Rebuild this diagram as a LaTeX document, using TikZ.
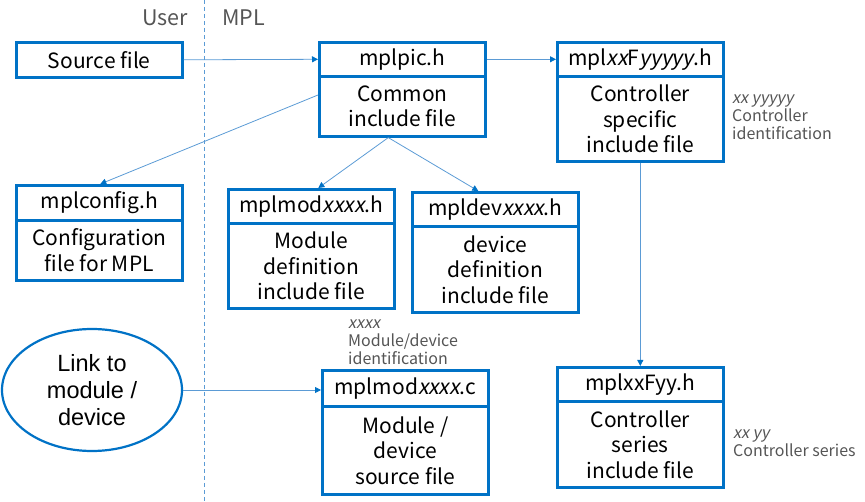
\documentclass[tikz,border=0pt]{standalone}
\usepackage{fontspec}
\setmainfont{Noto Sans CJK JP}[AutoFakeSlant=0.2]
\newfontfamily\arialfont{Liberation Sans}
\usetikzlibrary{arrows.meta,shapes.geometric}
\definecolor{boxblue}{RGB}{0,114,198}
\definecolor{lineblue}{RGB}{91,155,213}
\definecolor{notegray}{RGB}{85,85,85}
\begin{document}
\begin{tikzpicture}[x=1pt,y=-1pt,
  filebox/.style={draw=boxblue,line width=2.6pt,minimum width=166pt,inner sep=0pt,align=center,anchor=north west,
     font=\fontsize{21}{25.5}\selectfont},
  conn/.style={draw=lineblue,line width=0.8pt,-{Triangle[width=6pt,length=6pt,color=boxblue]}},
  note/.style={text=notegray,anchor=north west,align=left,inner sep=0pt,font=\fontsize{16}{18}\selectfont},
  side/.style={text=notegray,inner sep=0pt,font=\fontsize{21.5}{22}\selectfont}]
\useasboundingbox (0,0) rectangle (865,502);
% separator
\draw[lineblue,line width=0.8pt,dash pattern=on 4pt off 3pt] (204,0) -- (204,502);
\node[side,anchor=east] (user) at (188,18) {User};
\node[side,anchor=west] (mpl) at (222,18) {MPL};
% Source file
\node[filebox,minimum height=35pt] (src) at (15,41) {Source file};
% mplpic.h
\node[filebox,minimum height=34pt] (picT) at (318,41) {mplpic.h};
\node[filebox,minimum height=60pt] (picB) at (318,75) {Common\\include file};
% mplxxFyyyyy.h
\node[filebox,minimum height=34pt] (xxT) at (556,41) {mpl\textit{xx}F\textit{yyyyy}.h};
\node[filebox,minimum height=85pt] (xxB) at (556,75) {Controller\\specific\\include file};
% mplconfig.h
\node[filebox,minimum height=35pt] (cfgT) at (15,184) {mplconfig.h};
\node[filebox,minimum height=60pt] (cfgB) at (15,219) {Configuration\\file for MPL};
% mplmodxxxx.h
\node[filebox,minimum height=34pt] (modT) at (227,188) {mplmod\textit{xxxx}.h};
\node[filebox,minimum height=85pt] (modB) at (227,222) {Module\\definition\\include file};
% mpldevxxxx.h
\node[filebox,minimum height=34pt] (devT) at (411,191) {mpldev\textit{xxxx}.h};
\node[filebox,minimum height=86pt] (devB) at (411,225) {device\\definition\\include file};
% mplmodxxxx.c
\node[filebox,minimum height=36pt] (mcT) at (321,369) {mplmod\textit{xxxx}.c};
\node[filebox,minimum height=88pt] (mcB) at (321,405) {Module /\\device\\source file};
% mplxxFyy.h
\node[filebox,minimum height=34pt] (xyT) at (556,366) {mplxxFyy.h};
\node[filebox,minimum height=86pt] (xyB) at (556,400) {Controller\\series\\include file};
% ellipse
\node[ellipse,draw=boxblue,line width=2.2pt,minimum width=180pt,minimum height=122pt,inner sep=0pt,align=center,
  font=\arialfont\fontsize{23.5}{27}\selectfont] (link) at (92,390) {Link to\\module /\\device};
% notes
\node[note] (n1) at (732,95) {\textit{xx yyyyy}\\Controller\\identification};
\node[note] (n2) at (348,320) {\textit{xxxx}\\Module/device\\identification};
\node[note] (n3) at (733,430) {\textit{xx yy}\\Controller series};
% connectors
\draw[conn] (src.east) -- (picT.west);
\draw[conn] (picT.east) -- (xxT.west);
\draw[conn] ([yshift=-20pt]picB.north west) -- ([xshift=1pt]cfgT.north);
\draw[conn] ([xshift=-14pt]picB.south) -- ([xshift=7pt]modT.north);
\draw[conn] ([xshift=-14pt]picB.south) -- ([xshift=-17pt]devT.north);
\draw[conn] (xxB.south) -- (xyT.north);
\draw[conn] (link.east) -- (link.east -| mcT.west);
\end{tikzpicture}
\end{document}
